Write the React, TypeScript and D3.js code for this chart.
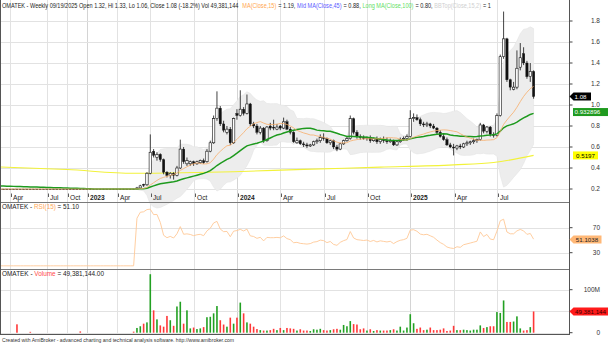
import React from 'react';
import * as d3 from 'd3';

// ---------- data ----------
const quarterLabels = ['Apr', 'Jul', 'Oct', '2023', 'Apr', 'Jul', 'Oct', '2024', 'Apr', 'Jul', 'Oct', '2025', 'Apr', 'Jul'];
const quarterIsYear = [false, false, false, true, false, false, false, true, false, false, false, true, false, false];
const barsBeforeFirstLabel = 3;
const barsPerQuarter = [11, 6, 6, 9, 10, 13, 13, 13, 13, 13, 13, 13, 13, 12];

// early illiquid weeks, price flat
const flatBars = 41;
const flatPrice = 0.2;
// average close of the weeks before the visible window (green MA start level)
const priorAvgClose = 0.23;

// weekly OHLC from bar 41 onward
const openA = [0.20, 0.21, 0.245, 0.24, 0.35, 0.56, 0.50, 0.53, 0.48, 0.36, 0.33, 0.35, 0.33, 0.40, 0.58, 0.44, 0.44, 0.46, 0.44, 0.45,
  0.47, 0.46, 0.56, 0.64, 0.87, 0.97, 0.82, 0.74, 0.77, 0.64, 0.92, 0.90, 0.96, 0.92, 1.01, 0.82, 0.80, 0.74, 0.78, 0.66,
  0.80, 0.79, 0.77, 0.80, 0.78, 0.84, 0.77, 0.74, 0.64, 0.66, 0.63, 0.62, 0.61, 0.62, 0.65, 0.66, 0.69, 0.68, 0.64, 0.66,
  0.60, 0.58, 0.63, 0.66, 0.68, 0.87, 0.74, 0.70, 0.69, 0.68, 0.69, 0.66, 0.68, 0.65, 0.67, 0.66, 0.65, 0.66, 0.62, 0.65,
  0.67, 0.68, 0.70, 0.87, 0.88, 0.86, 0.82, 0.81, 0.82, 0.80, 0.78, 0.74, 0.70, 0.67, 0.62, 0.60, 0.59, 0.61, 0.60, 0.63,
  0.64, 0.65, 0.66, 0.67, 0.81, 0.75, 0.79, 0.72, 0.71, 0.90, 1.46, 1.63, 1.24, 1.15, 1.17, 1.36, 1.49, 1.40, 1.27, 1.32];
const highA = [0.22, 0.24, 0.25, 0.36, 0.72, 0.58, 0.55, 0.54, 0.49, 0.37, 0.36, 0.36, 0.42, 0.67, 0.60, 0.50, 0.47, 0.47, 0.47, 0.48,
  0.49, 0.58, 0.66, 0.90, 1.13, 0.99, 0.85, 0.80, 0.79, 0.88, 0.96, 1.14, 0.98, 1.10, 1.02, 0.84, 0.82, 0.80, 0.79, 0.80,
  0.83, 0.86, 0.82, 0.81, 0.88, 0.86, 0.79, 0.75, 0.69, 0.67, 0.65, 0.64, 0.63, 0.66, 0.68, 0.72, 0.73, 0.69, 0.67, 0.67,
  0.62, 0.64, 0.67, 0.70, 0.90, 0.88, 0.76, 0.72, 0.71, 0.70, 0.71, 0.69, 0.70, 0.69, 0.70, 0.69, 0.68, 0.67, 0.66, 0.69,
  0.70, 0.72, 0.95, 0.92, 0.91, 0.88, 0.84, 0.84, 0.83, 0.82, 0.79, 0.76, 0.73, 0.69, 0.64, 0.63, 0.62, 0.63, 0.64, 0.66,
  0.66, 0.68, 0.68, 0.83, 0.82, 0.80, 0.80, 0.74, 0.92, 1.48, 1.89, 1.64, 1.25, 1.22, 1.52, 1.59, 1.55, 1.42, 1.40, 1.33];
const lowA = [0.20, 0.21, 0.22, 0.23, 0.34, 0.50, 0.47, 0.46, 0.34, 0.31, 0.30, 0.29, 0.32, 0.39, 0.44, 0.42, 0.42, 0.42, 0.43, 0.44,
  0.44, 0.45, 0.55, 0.63, 0.85, 0.80, 0.74, 0.72, 0.62, 0.63, 0.86, 0.89, 0.90, 0.91, 0.80, 0.78, 0.72, 0.72, 0.64, 0.65,
  0.76, 0.76, 0.76, 0.76, 0.77, 0.76, 0.72, 0.64, 0.63, 0.62, 0.60, 0.59, 0.60, 0.61, 0.63, 0.64, 0.66, 0.63, 0.62, 0.58,
  0.56, 0.57, 0.62, 0.65, 0.67, 0.72, 0.68, 0.67, 0.67, 0.66, 0.64, 0.65, 0.63, 0.63, 0.64, 0.63, 0.64, 0.61, 0.61, 0.64,
  0.66, 0.66, 0.69, 0.84, 0.85, 0.80, 0.79, 0.79, 0.78, 0.77, 0.72, 0.69, 0.66, 0.61, 0.59, 0.52, 0.57, 0.58, 0.59, 0.61,
  0.62, 0.63, 0.64, 0.66, 0.73, 0.73, 0.70, 0.69, 0.70, 0.89, 1.44, 1.22, 1.14, 1.14, 1.15, 1.33, 1.38, 1.25, 1.22, 1.06];
const closeA = [0.21, 0.23, 0.235, 0.35, 0.55, 0.52, 0.53, 0.48, 0.36, 0.33, 0.35, 0.33, 0.40, 0.58, 0.46, 0.47, 0.46, 0.44, 0.46, 0.47,
  0.45, 0.56, 0.64, 0.87, 0.97, 0.82, 0.76, 0.77, 0.64, 0.87, 0.90, 0.96, 0.92, 1.01, 0.82, 0.80, 0.74, 0.78, 0.66, 0.79,
  0.78, 0.78, 0.79, 0.78, 0.84, 0.77, 0.74, 0.65, 0.66, 0.63, 0.62, 0.61, 0.62, 0.65, 0.66, 0.69, 0.68, 0.64, 0.66, 0.60,
  0.58, 0.63, 0.66, 0.68, 0.87, 0.74, 0.70, 0.69, 0.68, 0.69, 0.66, 0.68, 0.65, 0.67, 0.66, 0.65, 0.66, 0.62, 0.65, 0.67,
  0.68, 0.70, 0.87, 0.88, 0.86, 0.82, 0.81, 0.82, 0.80, 0.78, 0.74, 0.70, 0.67, 0.62, 0.60, 0.59, 0.61, 0.60, 0.63, 0.64,
  0.65, 0.66, 0.67, 0.81, 0.75, 0.79, 0.72, 0.71, 0.90, 1.46, 1.63, 1.24, 1.17, 1.17, 1.35, 1.45, 1.40, 1.27, 1.32, 1.08];

// weekly volume, millions
const volumeM = [0, 0, 0, 0, 0, 19.5, 0, 0, 0, 2, 0, 0, 0, 0, 0, 0, 0, 0, 0, 0,
  0, 0, 0, 0, 3, 0, 0, 0, 0, 0, 0, 0, 0, 0, 0, 0, 0, 0, 0, 0,
  2.5, 11, 15, 21, 24, 136, 52, 31, 17, 14, 39, 29, 16, 61, 72, 21, 52, 10, 12, 8.5,
  10, 13, 36, 37, 45, 62, 29, 19, 14, 35, 21, 35, 70, 45, 24, 21, 14, 8.5, 6, 5,
  5, 6, 9, 6, 11, 6, 11, 10, 9, 5, 8, 5, 5, 4, 8, 7, 9, 6, 5, 6,
  8, 9, 7, 18, 15, 27, 20, 19, 8, 10, 5, 8, 4, 6, 5, 5, 5, 6, 8, 5,
  14, 5, 12, 43, 22, 9, 12, 6, 7, 12, 6, 6, 7, 10, 4, 5, 16, 6, 6, 7,
  6, 5, 7, 7, 17, 11, 13, 15, 15, 48, 46, 75, 25, 25, 26, 38, 10, 5, 6, 13, 49.381144];

// long moving average (yellow), read at a few bars
const yellowIdx = [0, 20, 40, 55, 70, 91, 114, 136, 148, 160];
const yellowVal = [0.41, 0.385, 0.35, 0.355, 0.365, 0.387, 0.408, 0.43, 0.452, 0.52];

const rsiFlat = 9;
const lastClose = 1.08;
const lastGreen = 0.932896;
const lastYellow = 0.5197;
const lastRsi = 51.1038;
const lastVolM = 49.381144;

const priceTicks = [0.2, 0.4, 0.6, 0.8, 1.0, 1.2, 1.4, 1.6, 1.8];
const rsiTicks = [30, 70];
const volGrid = [0, 50, 100];
const volLabels = [0, 100];

const titleParts = [
  'OMATEK - Weekly 09/19/2025 Open 1.32, Hi 1.33, Lo 1.06, Close 1.08 (-18.2%) Vol 49,381,144 ',
  'MA(Close,15)', ' = 1.19, ', 'Mid MA(Close,45)', ' = 0.88, ', 'Long MA(Close,100)', ' = 0.80, ', 'BBTop(Close,15,2)', ' = 1',
];
const titleColors = ['#222', '#ffa64d', '#222', '#5a5aff', '#222', '#5fe05f', '#222', '#cfcfcf', '#222'];

// ---------- derived ----------
const FONT = 'Liberation Sans, Arial, Helvetica, sans-serif';

function measure(texts: string[], size: number): number[] {
  const cv = typeof document !== 'undefined' ? document.createElement('canvas') : null;
  const ctx = cv ? cv.getContext('2d') : null;
  return texts.map(t => {
    if (!ctx) return t.length * size * 0.5;
    ctx.font = `${size}px "Liberation Sans", Arial, sans-serif`;
    return ctx.measureText(t).width;
  });
}

function buildSeries() {
  const flat = d3.range(flatBars).map(() => flatPrice);
  const o = flat.concat(openA);
  const h = flat.concat(highA);
  const l = flat.concat(lowA);
  const c = flat.concat(closeA);
  return { o, h, l, c };
}

export default function App() {
  const { o, h, l, c } = buildSeries();
  const n = c.length;
  const W = 608, H = 345;
  const axisX = 569.5;

  const x = d3.scaleLinear().domain([0, n - 1]).range([0.3, 533.6]);
  const yP = d3.scaleLinear().domain([0, 2]).range([210, 0]);
  const yR = d3.scaleLinear().domain([30, 70]).range([252.7, 227.7]);
  const yV = d3.scaleLinear().domain([0, 100]).range([332.7, 289.7]);

  const sma = (arr: number[], p: number) => arr.map((_, i) => d3.mean(arr.slice(Math.max(0, i - p + 1), i + 1)) as number);
  const ma15 = sma(c, 15);
  const padded = d3.range(29).map(() => priorAvgClose).concat(c);
  const ma30 = c.map((_, i) => d3.mean(padded.slice(i, i + 30)) as number);
  const bb = c.map((_, i) => {
    const w = c.slice(Math.max(0, i - 14), i + 1);
    const m = d3.mean(w) as number;
    const sd = Math.sqrt(d3.mean(w.map(v => (v - m) ** 2)) as number);
    return [m - 2 * sd, m + 2 * sd];
  });

  // Wilder RSI(15)
  const per = 15;
  let al = 0.002;
  let ag = al * rsiFlat / (100 - rsiFlat);
  const rsi: number[] = [rsiFlat];
  for (let i = 1; i < n; i++) {
    const ch = c[i] - c[i - 1];
    ag = (ag * (per - 1) + Math.max(ch, 0)) / per;
    al = (al * (per - 1) + Math.max(-ch, 0)) / per;
    rsi.push(100 * ag / (ag + al));
  }

  const tickIdx: number[] = [];
  let acc = barsBeforeFirstLabel;
  barsPerQuarter.forEach(b => { tickIdx.push(acc); acc += b; });

  const idx = d3.range(n);
  const line = (ys: (i: number) => number) => d3.line<number>().x(i => x(i)).y(i => ys(i))(idx) as string;
  const bandPath = d3.area<number>().x(i => x(i)).y0(i => yP(bb[i][0])).y1(i => yP(bb[i][1]))(idx) as string;
  const yellowPath = d3.line<number>().x(i => x(yellowIdx[i])).y(i => yP(yellowVal[i])).curve(d3.curveMonotoneX)(d3.range(yellowIdx.length)) as string;

  // title layout: natural widths scaled to the reference span; spaces kept out of the drawn strings
  const tSize = 6.5;
  const tw = measure(titleParts, tSize);
  const lead = measure(titleParts.map(t => t.match(/^ */)![0]), tSize);
  const trimmed = titleParts.map(t => t.trim());
  const trimW = measure(trimmed, tSize);
  const tScale = 489 / d3.sum(tw);
  const tX: number[] = [];
  let cx0 = 2;
  tw.forEach((w, k) => { tX.push(cx0 + lead[k] * tScale); cx0 += w * tScale; });

  const dark = '#222';
  const gridC = '#e2e2e2';

  const arrowBox = (x0: number, cy: number, w: number, hh: number) =>
    `M${x0},${cy} L${x0 + 4},${cy - hh / 2} L${x0 + w},${cy - hh / 2} L${x0 + w},${cy + hh / 2} L${x0 + 4},${cy + hh / 2} Z`;

  return (
    <svg width={W} height={H} style={{ position: 'absolute', left: 0, top: 0, background: '#fff' }} fontFamily={FONT}>
      <rect x={0} y={0} width={W} height={H} fill="#fff" />
      {tickIdx.map((ti, k) => (
        <line key={'vg' + k} x1={Math.round(x(ti)) + 0.5} x2={Math.round(x(ti)) + 0.5} y1={0} y2={334}
          stroke={quarterIsYear[k] ? '#d4d4d4' : gridC} strokeWidth={1} shapeRendering="crispEdges" />
      ))}
      {priceTicks.map(t => (
        <line key={'pg' + t} x1={0} x2={axisX} y1={Math.round(yP(t)) + 0.5} y2={Math.round(yP(t)) + 0.5} stroke={gridC} shapeRendering="crispEdges" />
      ))}
      {rsiTicks.map(t => (
        <line key={'rg' + t} x1={0} x2={axisX} y1={Math.round(yR(t)) + 0.5} y2={Math.round(yR(t)) + 0.5} stroke={gridC} shapeRendering="crispEdges" />
      ))}
      {volGrid.map(t => (
        <line key={'vgl' + t} x1={0} x2={axisX} y1={Math.round(yV(t)) + 0.5} y2={Math.round(yV(t)) + 0.5} stroke={gridC} shapeRendering="crispEdges" />
      ))}

      <path d={bandPath} fill="#ededed" stroke="#e4e4e4" strokeWidth={0.6} />
      <path d={yellowPath} fill="none" stroke="#f2f23a" strokeWidth={1.1} />

      {idx.map(i => {
        const px = x(i);
        const up = c[i] > o[i];
        const top = yP(Math.max(o[i], c[i]));
        const bh = Math.max(Math.abs(yP(o[i]) - yP(c[i])), 0.7);
        return (
          <g key={'c' + i}>
            <line x1={px} x2={px} y1={yP(h[i])} y2={yP(l[i])} stroke="#111" strokeWidth={0.8} />
            <rect x={px - 1.2} y={top} width={2.4} height={bh} fill={up ? '#fff' : '#111'} stroke="#111" strokeWidth={up ? 0.6 : 0.3} />
          </g>
        );
      })}

      <path d={line(i => yP(ma30[i]))} fill="none" stroke="#1e9a1e" strokeWidth={1.5} />
      <path d={line(i => yP(ma15[i]))} fill="none" stroke="#f7ad6a" strokeWidth={0.8} />

      {/* title */}
      {trimmed.map((t, k) => (
        <text key={'tt' + k} x={tX[k]} y={7.6} fontSize={tSize} fill={titleColors[k]}
          textLength={trimW[k] * tScale * 0.99} lengthAdjust="spacingAndGlyphs">{t}</text>
      ))}

      {tickIdx.map((ti, k) => {
        const tx = Math.round(x(ti)) + 0.5;
        return (
          <g key={'dt' + k}>
            <line x1={tx + 1} x2={tx + 1} y1={193.5} y2={197} stroke="#333" strokeWidth={0.8} />
            <text x={tx + 2.5} y={199.6} fontSize={6.6} fill={dark} fontWeight={quarterIsYear[k] ? 'bold' : 'normal'}>{quarterLabels[k]}</text>
          </g>
        );
      })}

      <line x1={0} x2={axisX} y1={202.5} y2={202.5} stroke="#7a7a7a" strokeWidth={1.2} />
      <line x1={0} x2={axisX} y1={269.5} y2={269.5} stroke="#7a7a7a" strokeWidth={1.2} />

      <path d={line(i => yR(rsi[i]))} fill="none" stroke="#ffc896" strokeWidth={0.9} />
      <text x={2} y={208.6} fontSize={6.5} textLength={77} lengthAdjust="spacingAndGlyphs" fill={dark}>
        <tspan>OMATEK - </tspan><tspan fill="#ffa858">RSI(15)</tspan><tspan> = 51.10</tspan>
      </text>

      {idx.filter(i => volumeM[i] > 0).map(i => (
        <rect key={'v' + i} x={x(i) - 0.8} y={yV(volumeM[i])} width={1.6} height={yV(0) - yV(volumeM[i])}
          fill={c[i] > o[i] ? '#22a022' : '#ff3838'} />
      ))}
      <text x={2} y={276.2} fontSize={6.5} textLength={102} lengthAdjust="spacingAndGlyphs" fill={dark}>
        <tspan>OMATEK - </tspan><tspan fill="#ff4a4a">Volume</tspan><tspan> = 49,381,144.00</tspan>
      </text>

      <line x1={0.5} x2={0.5} y1={0} y2={335} stroke="#555" />
      <line x1={axisX} x2={axisX} y1={0} y2={335} stroke="#555" />
      <line x1={0} x2={axisX} y1={334.5} y2={334.5} stroke="#555" />

      {priceTicks.map(t => (
        <g key={'pt' + t}>
          <line x1={axisX} x2={axisX + 3} y1={yP(t)} y2={yP(t)} stroke="#444" />
          <text x={600} y={yP(t) + 2.3} fontSize={6.5} textAnchor="end" fill="#333">{t.toFixed(1)}</text>
        </g>
      ))}
      {rsiTicks.map(t => (
        <g key={'rt' + t}>
          <line x1={axisX} x2={axisX + 3} y1={yR(t)} y2={yR(t)} stroke="#444" />
          <text x={600} y={yR(t) + 2.3} fontSize={6.5} textAnchor="end" fill="#333">{t}</text>
        </g>
      ))}
      {volGrid.map(t => (
        <line key={'vtk' + t} x1={axisX} x2={axisX + 3} y1={yV(t)} y2={yV(t)} stroke="#444" />
      ))}
      {volLabels.map(t => (
        <text key={'vt' + t} x={600} y={yV(t) + 2.3} fontSize={6.5} textAnchor="end" fill="#333">{t === 0 ? '0' : t + 'M'}</text>
      ))}

      <path d={arrowBox(569.5, yP(lastClose), 21.5, 8)} fill="#000" />
      <text x={580.5} y={yP(lastClose) + 2.2} fontSize={6.2} textAnchor="middle" fill="#fff">{lastClose.toFixed(2)}</text>

      <rect x={573} y={yP(lastGreen) - 4} width={36} height={8} fill="#1f9a1f" />
      <text x={574.5} y={yP(lastGreen) + 2.2} fontSize={6.2} fill="#fff">{lastGreen.toFixed(6)}</text>

      <rect x={573} y={yP(lastYellow) - 4} width={25} height={8} fill="#ffff00" />
      <text x={585.5} y={yP(lastYellow) + 2.2} fontSize={6.2} textAnchor="middle" fill="#000">{lastYellow.toFixed(4)}</text>

      <path d={arrowBox(569.5, yR(lastRsi), 32, 8)} fill="#ffb877" />
      <text x={587} y={yR(lastRsi) + 2.2} fontSize={6.2} textAnchor="middle" fill="#222">{lastRsi.toFixed(4)}</text>

      <path d={arrowBox(569.5, yV(lastVolM), 40, 8)} fill="#ff1a1a" />
      <text x={575} y={yV(lastVolM) + 2.2} fontSize={6.2} fill="#3a0000">{d3.format(',')(Math.round(lastVolM * 1e6))}</text>

      <text x={2} y={341.6} fontSize={5.2} textLength={232} lengthAdjust="spacingAndGlyphs" fill="#333">
        Created with AmiBroker - advanced charting and technical analysis software. http://www.amibroker.com
      </text>
    </svg>
  );
}
